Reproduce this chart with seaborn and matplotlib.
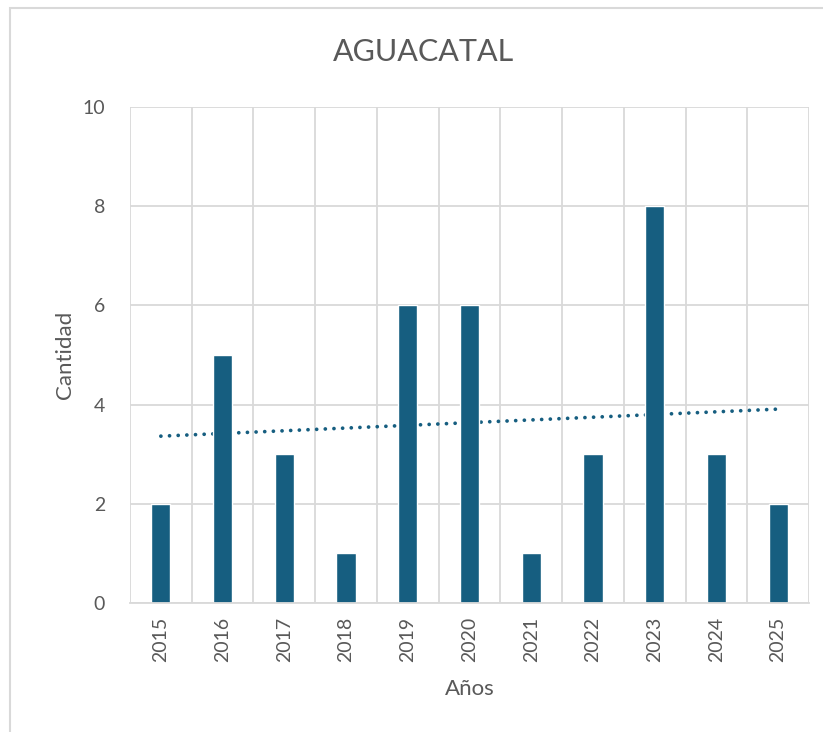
import numpy as np
import pandas as pd
import matplotlib
matplotlib.use("Agg")
import matplotlib.pyplot as plt
import seaborn as sns
from matplotlib.patches import Rectangle

years = ["2015", "2016", "2017", "2018", "2019", "2020", "2021", "2022", "2023", "2024", "2025"]
counts = [2, 5, 3, 1, 6, 6, 1, 3, 8, 3, 2]

sns.set_theme(style="white")
plt.rcParams['font.family'] = ['Lato', 'DejaVu Sans']

bar_color = "#165E80"
text_color = "#595959"
grid_color = "#D9D9D9"

fig = plt.figure(figsize=(8.23, 7.32), dpi=100)
ax = fig.add_axes([130/823, (732-603)/732, (809-130)/823, (603-107)/732])

df = pd.DataFrame({"Años": years, "Cantidad": counts})

# trend line (linear regression)
xs = np.arange(len(years))
m, b = np.polyfit(xs, counts, 1)
ax.plot(xs, m*xs + b, linestyle=(0, (0.01, 2.3)), color=bar_color, linewidth=2.7,
        dash_capstyle="round", solid_capstyle="round", zorder=1)

sns.barplot(data=df, x="Años", y="Cantidad", color=bar_color, width=0.31,
            saturation=1, ax=ax, zorder=2)

ax.set_xlim(-0.5, len(years) - 0.5)
ax.set_ylim(0, 10)
ax.set_yticks([0, 2, 4, 6, 8, 10])
ax.set_xticks(np.arange(-0.5, len(years)), minor=True)
ax.grid(True, which="minor", axis="x", color=grid_color, linewidth=1.3, zorder=0)
ax.grid(True, which="major", axis="y", color=grid_color, linewidth=1.3, zorder=0)
ax.set_axisbelow(True)
for s in ["top", "right", "left"]:
    ax.spines[s].set_visible(False)
ax.spines["bottom"].set_color(grid_color)
ax.spines["bottom"].set_linewidth(1.3)

ax.tick_params(axis="x", which="both", length=0, labelrotation=90, labelsize=14,
               labelcolor=text_color, pad=10)
ax.tick_params(axis="y", length=0, labelsize=14, labelcolor=text_color, pad=18)

ax.set_xlabel("Años", fontsize=16, color=text_color, labelpad=12)
ax.set_ylabel("Cantidad", fontsize=16, color=text_color, labelpad=5)
fig.text(424/823, 1 - 52/732, "AGUACATAL", ha="center", va="center",
         fontsize=22, color=text_color)

fig.patches.append(Rectangle((10/823, -0.1), 1.2, (732-8)/732 + 0.1, transform=fig.transFigure,
                             fill=False, edgecolor=grid_color, linewidth=1.5))

fig.savefig("out.png", dpi=100)
